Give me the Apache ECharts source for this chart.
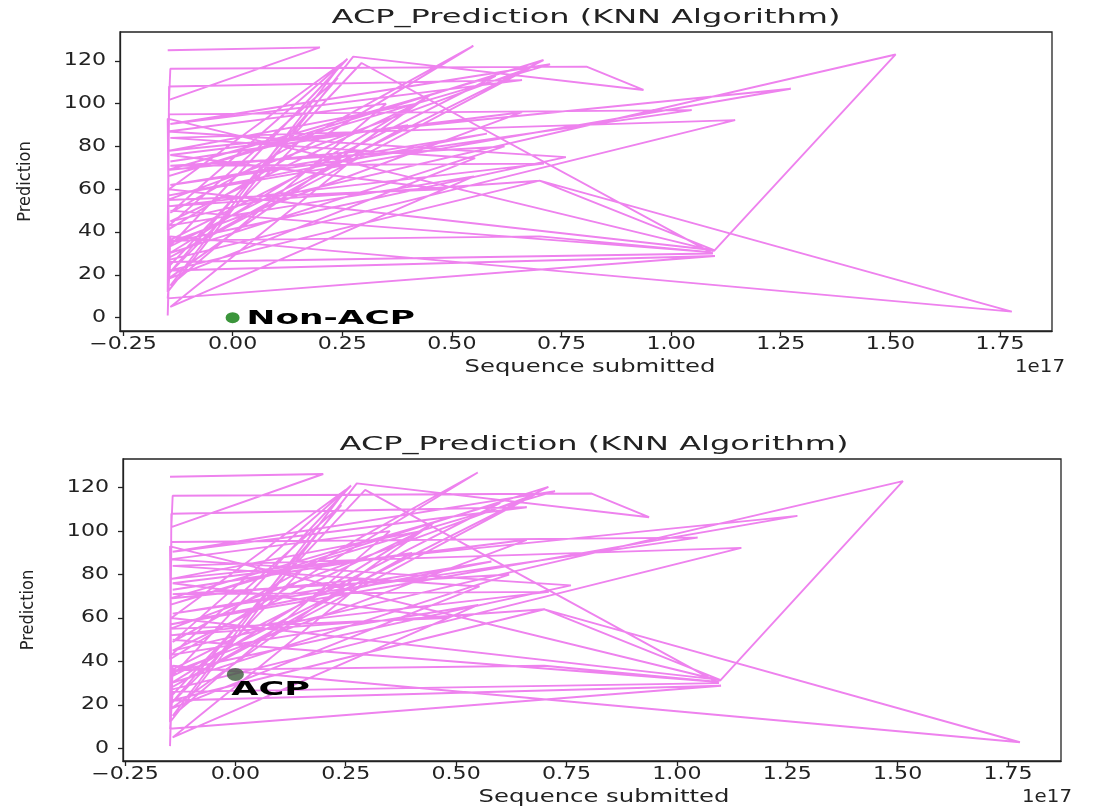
<!DOCTYPE html>
<html>
<head>
<meta charset="utf-8">
<script src="https://cdn.jsdelivr.net/npm/echarts@6/dist/echarts.min.js"></script>
<style>
html,body{margin:0;padding:0;background:#fff;}
#chart{width:1106px;height:808px;}
</style>
</head>
<body>
<div id="chart"></div>
<script>
// ---- data (x in units of 1e17) ----
const La = -0.148, Lb = -0.145, Lc = -0.142;
const seqX = [
  La,   0.199, Lb,    Lc,    0.807, 0.937, 0.275, La,    Lb,    0.66,
  Lc,   0.724, La,    0.709, Lb,    0.262, Lc,    0.549, La,    Lb,
  1.047,Lc,    0.58,  La,    1.273, Lb,    0.42,  Lc,    1.512, 1.098,
  La,   Lb,    0.294, 1.095, Lc,    La,    1.10,  Lb,    0.70,  1.777,
  Lc,   La,    Lb,    1.146, Lc,    0.553, La,    0.45,  Lb,    0.62,
  Lc,   0.71,  La,    0.70,  1.098, Lb,    0.25,  Lc,    0.35,  La,
  0.76, Lb,    0.66,  Lc,    0.48,  La,    0.68,  Lb,    0.40,  Lc,
  0.15, La,    0.24,  Lb,    0.55,  Lc,    0.30,  La,    0.60,  Lb,
  0.70, 1.095, Lc
];
const seqY = [
  125,  126.3, 101.8, 116.3, 117.3, 106.4, 122,   12,    108,   111,
  90.5, 118.4, 66,    120.4, 33,    121,   49,    127,   41,    95,
  97,   62,    86,    57,    107,   78,    100,   45,    123,   31.2,
  93,   24,    119,   30,    26,    9,     28.8,  22,    64,    2.8,
  38,   1,     27,    92.3,  84,    74.5,  18,    104,   30,    80,
  71,   72,    52,    64,    31.5,  60,    119,   15,    100,   87,
  75,   35,    96,    76,    60,    55,    117,   28,    90,    73,
  82,   20,    112,   43,    66,    5,     78,    69,    113,   36,
  38,   30.5,  50
];
const ticksX = [-0.25,0,0.25,0.5,0.75,1.0,1.25,1.5,1.75];
const ticksY = [0,20,40,60,80,100,120];
const markerNonACP = [0, 0];
const markerACP = [0, 34];
const titleText = 'ACP_Prediction (KNN Algorithm)';
const xName = 'Sequence submitted';
const yName = 'Prediction';
const offsetText = '1e17';

const chart = echarts.init(document.getElementById('chart'), null, {renderer:'canvas'});
const lineData = seqX.map((x,i)=>[x, seqY[i]]);
const gridBoxes = [
  {left:120, top:32, width:932, height:299},
  {left:123, top:459, width:938, height:302}
];

function xAxis(gi, min, max){
  return {type:'value', gridIndex:gi, min:min, max:max,
    axisLine:{show:true, onZero:false, lineStyle:{color:'#222', width:1.3}},
    axisTick:{show:true, length:5, customValues:ticksX, lineStyle:{color:'#222', width:1.3}},
    axisLabel:{show:false},
    splitLine:{show:false}};
}
function yAxis(gi, min, max){
  return {type:'value', gridIndex:gi, min:min, max:max,
    name:yName, nameLocation:'middle', nameGap:86, nameRotate:90,
    nameTextStyle:{fontFamily:'DejaVu Sans Condensed', fontSize:18, color:'#222'},
    axisLine:{show:true, onZero:false, lineStyle:{color:'#222', width:1.3}},
    axisTick:{show:true, length:5, customValues:ticksY, lineStyle:{color:'#222', width:1.3}},
    axisLabel:{show:false},
    splitLine:{show:false}};
}
function stretchedText(x, y, text, size, sx, opts){
  opts = opts || {};
  const align = opts.align || 'center';
  return {type:'text', x:x, y:y, scaleX:sx, z:10,
    style:{text:text, x:0, y:0, align:align, verticalAlign:'middle',
      textAlign:align, textVerticalAlign:'middle',
      font:(opts.weight||'normal')+' '+size+'px "'+(opts.family||'DejaVu Sans')+'"', fill:opts.fill||'#222'}};
}

const option = {
  backgroundColor:'#fff',
  animation:false,
  grid:gridBoxes.map(g=>Object.assign({show:true, borderColor:'#222', borderWidth:1.3, backgroundColor:'#fff'}, g)),
  xAxis:[xAxis(0,-0.2568,1.8686), xAxis(1,-0.2545,1.870)],
  yAxis:[yAxis(0,-6.25,133.5), yAxis(1,-5.85,133.2)],
  series:[
    {type:'line', xAxisIndex:0, yAxisIndex:0, data:lineData, showSymbol:false, symbol:'none',
     lineStyle:{color:'#EE82EE', width:1.9}, z:2},
    {type:'line', xAxisIndex:1, yAxisIndex:1, data:lineData, showSymbol:false, symbol:'none',
     lineStyle:{color:'#EE82EE', width:1.9}, z:2},
    {type:'scatter', xAxisIndex:0, yAxisIndex:0, data:[markerNonACP], symbolSize:[14,11],
     itemStyle:{color:'#0a7a0a'}, z:5},
    {type:'scatter', xAxisIndex:1, yAxisIndex:1, data:[markerACP], symbolSize:[17,13],
     itemStyle:{color:'#3f5a3f'}, z:5}
  ]
};
chart.setOption(option);

// texts placed through the chart's own scales
const g = [];
[0,1].forEach(i=>{
  const box = gridBoxes[i];
  const bottom = box.top + box.height;
  ticksX.forEach(v=>{
    const px = chart.convertToPixel({xAxisIndex:i}, v);
    g.push(stretchedText(px, bottom + 14, (v<0?'\u2212':'')+Math.abs(v).toFixed(2), 17, 1.3));
  });
  ticksY.forEach(v=>{
    const py = chart.convertToPixel({yAxisIndex:i}, v);
    g.push(stretchedText(box.left - 14, py, String(v), 17, 1.3, {align:'right'}));
  });
});
const p0 = chart.convertToPixel({xAxisIndex:0, yAxisIndex:0}, markerNonACP);
const p1 = chart.convertToPixel({xAxisIndex:1, yAxisIndex:1}, markerACP);
g.push(stretchedText(p0[0]+14, p0[1]+1, 'Non-ACP', 20, 1.72, {align:'left', weight:'bold', fill:'#000'}));
g.push(stretchedText(p1[0]-4, p1[1]+16, 'ACP', 19, 1.85, {align:'left', weight:'bold', fill:'#000'}));
g.push(stretchedText(586, 18, titleText, 20, 1.6));
g.push(stretchedText(594, 445, titleText, 20, 1.6));
g.push(stretchedText(590, 367, xName, 18, 1.35));
g.push(stretchedText(604, 797, xName, 18, 1.35));
g.push(stretchedText(1040, 367, offsetText, 18, 1.1));
g.push(stretchedText(1047, 797, offsetText, 18, 1.1));
chart.setOption({graphic:g});
</script>
</body>
</html>
